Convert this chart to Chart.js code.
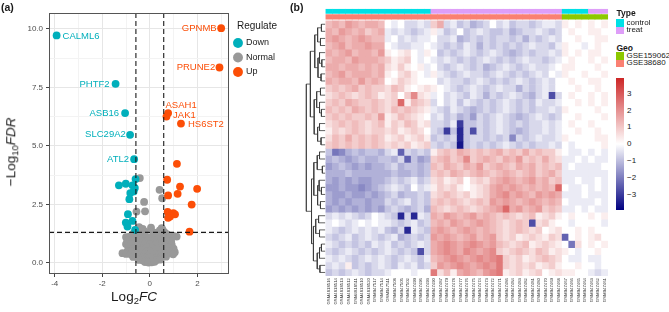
<!DOCTYPE html>
<html><head><meta charset="utf-8">
<script src="https://cdn.jsdelivr.net/npm/chart.js@4.4.1/dist/chart.umd.min.js"></script>
<style>
html,body{margin:0;padding:0;background:#fff;}
#wrap{position:relative;width:669px;height:312px;overflow:hidden;font-family:"Liberation Sans",Arial,sans-serif;color:#1a1a1a;}
canvas{position:absolute;top:0;}
.t{position:absolute;white-space:nowrap;line-height:1;}
.t sub{font-size:70%;vertical-align:-0.3em;line-height:0;}
.sw{position:absolute;}
</style></head><body>
<div id="wrap">
<canvas id="volcano" width="285" height="312" style="left:0px"></canvas>
<canvas id="heat" width="312" height="312" style="left:300px"></canvas>
<div class="t" style="left:1px;top:2px;font-size:10.5px;font-weight:bold">(a)</div>
<div class="t" style="left:290px;top:2px;font-size:10.5px;font-weight:bold">(b)</div>
<div class="t" style="left:11px;top:152px;font-size:13.5px;transform:translate(-50%,-50%) rotate(-90deg)">&minus;Log<sub>10</sub><i>FDR</i></div>
<div class="t" style="left:134px;top:297px;font-size:13.5px;transform:translate(-50%,-50%)">Log<sub>2</sub><i>FC</i></div>
<div id="hleg"></div>
</div>
<script>
// ================= Panel (a): volcano data =================
const downGene = ['CALML6','PHTF2','ASB16','SLC29A2','ATL2','','','','','','','','','','','','',''];
const downX = [-3.92,-1.44,-1.04,-0.83,-0.66,-0.60,-1.30,-1.01,-0.73,-0.63,-0.82,-0.68,-0.86,-0.92,-0.73,-1.01,-0.94,-0.62];
const downY = [9.72,7.65,6.40,5.47,4.43,3.58,3.31,3.38,3.31,3.20,2.98,3.05,2.72,2.08,1.79,1.72,1.55,1.41];
const upGene = ['GPNMB','PRUNE2','ASAH1','JAK1','HS6ST2','','','','','','','','','','','','',''];
const upX = [3.00,2.93,0.77,0.70,1.31,1.14,0.73,1.27,1.99,0.77,1.17,1.76,0.75,0.99,1.06,0.85,0.77,1.67];
const upY = [10.03,8.35,6.40,6.25,5.95,4.23,3.55,3.26,3.16,2.88,2.95,2.49,2.18,2.12,2.07,1.98,1.92,1.33];
const normalPts = [
 [-0.42,3.62],[0.41,3.12],[0.52,2.76],[-0.24,2.6],[-0.56,2.19],[-0.2,2.2],[-0.42,1.41],[0.54,1.41],
 [-0.45,1.52],[-0.3,1.45],[0.05,1.5],[0.5,1.48],[0.42,1.38],
 [-0.7,1.25],[-0.55,1.3],[-0.2,1.33],[0.15,1.3],[0.3,1.28],[0.62,1.3],[0.72,1.22],
 [-1.0,1.1],[-0.85,1.12],[-0.6,1.08],[-0.4,1.15],[-0.15,1.1],[0.1,1.12],[0.35,1.1],[0.6,1.1],[0.85,1.08],[0.99,1.15],[1.13,1.12],
 [-0.95,0.95],[-0.75,0.92],[-0.5,0.95],[-0.3,0.9],[-0.05,0.93],[0.2,0.95],[0.45,0.92],[0.7,0.95],[0.9,0.9],
 [-1.0,0.8],[-0.8,0.78],[-0.6,0.82],[-0.4,0.75],[-0.2,0.8],[0.0,0.78],[0.25,0.8],[0.5,0.76],[0.75,0.8],[0.92,0.77],
 [-0.9,0.65],[-0.7,0.6],[-0.5,0.65],[-0.3,0.62],[-0.1,0.66],[0.12,0.6],[0.35,0.64],[0.6,0.62],[0.8,0.65],[1.0,0.6],
 [-0.95,0.48],[-0.75,0.5],[-0.55,0.47],[-0.35,0.52],[-0.15,0.48],[0.05,0.5],[0.25,0.47],[0.45,0.52],[0.65,0.48],[0.85,0.5],[1.05,0.45],
 [-1.15,0.41],[-1.0,0.38],[-0.8,0.36],[-0.6,0.38],[-0.4,0.35],[-0.2,0.37],[0.0,0.36],[0.2,0.38],[0.4,0.35],[0.6,0.37],[0.8,0.4],[0.98,0.36],
 [-0.7,0.25],[-0.5,0.22],[-0.3,0.24],[-0.12,0.2],[0.08,0.23],[0.28,0.21],[0.48,0.24],[0.68,0.26],
 [-0.45,0.12],[-0.28,0.1],[-0.1,0.08],[0.1,0.1],[0.3,0.12],[0.45,0.14],
 [-0.2,0.03],[-0.05,0.01],[0.08,0.02],[0.2,0.04]
];
const fcCut = [-0.585, 0.585];
const fdrCut = 1.301;
const xTickVals = [-4,-3,-2,-1,0,1,2,3];
const yTickVals = [0,1.25,2.5,3.75,5,6.25,7.5,8.75,10];

// ================= Panel (b): heatmap data =================
const sampleNames = [
 'GSM4818516','GSM4818514','GSM4818513','GSM4818512','GSM4818511','GSM4818510','GSM4818520',
 'GSM947517','GSM947514','GSM947511','GSM947508','GSM947505','GSM947502','GSM947499','GSM947496','GSM947493',
 'GSM947490','GSM947487','GSM947479','GSM947478','GSM947477','GSM947476','GSM947475','GSM947474','GSM947473','GSM947472',
 'GSM947471','GSM947486','GSM947484','GSM947483','GSM947482','GSM947481','GSM947480','GSM947470','GSM947469','GSM947468',
 'GSM947467','GSM947466','GSM947465','GSM947464',
 'GSM947463','GSM947462','GSM947461'];
const sampleTypeCode = 'cccccccccccccccc tttttttttttttttttttt cccc ttt';
const sampleGeoCode  = 'aaaaaaaaaaaaaaaa aaaaaaaaaaaaaaaaaaaa bbbb bbb';
const typeLevels = ['control','treat'];
const geoLevels = ['GSE159062','GSE38680'];
// z-scores: letter code, M = 0, each step = 0.3
const exprRows = [
 'QRQSRQRRQMLMKKLK PRKLJKIJKMKLJKKJKLLK NMNM NMN',
 'RQSRQRPQRLKLKJKL NLJKMJKLKJJKIJKKLKJK MNMM NNM',
 'RSRQRSRQQLMKLKLL MKKLIJKJKJKKJKIKJKLK MMNM MNN',
 'QRSQRRSRRMLKKLLM LKJKJLKIKJKJKJKLKKJL NMML MNM',
 'RQRSQRRQSNMNOMLN MJKJKLKJKLKJIJKJKKLK NMNM NNM',
 'QRRQSRRRQPNOPMLM LKLKJKJKLKJKJKLKKJKL MNMM NMN',
 'RRQRRQRQRONPNMNL MKJKLKJKIJKLKJKLKKLM NNMM MNM',
 'QRSQRRRQRNMOPNML NLKJKLKKJKLKJKJKLKML NMMN MMN',
 'RQRRQSQRQMNPONMM MKLKKJKLKJKJKLKJKLKM MNMM NNM',
 'PQPQRPQPPOQPNMNO NMLKJKLKJKLKKIKJKLKM MMNM MNM',
 'OPQPOPQPNOPMPTON LMKLKJLKIKJKLKJIKLDK MNMM NMN',
 'PQPRQPPQPOPVNQPO KMKLJLKJKJKLKJKJLKKL MMNM NMN',
 'QPQPRQPQPOQPQPON LKJLKJIJKJKLKJKJKKLK NMMM MNM',
 'PQPQPPQPSNOQPONM KLJKIJHKJKLKJIJKLKJK MMNM MMN',
 'OPQPQPOPQNPOQPNO KKJLCJJKJKLKJKJKKLKL MNMM NMM',
 'NPOPQPOPPOPNOPOM KJCJBJDKJKLKJIJKKLKL MMNM MNM',
 'OQPRPQPQPNOPNOPN JKJKBJKKJKJKGKJKLKKL NMMM MNN',
 'PQPQPQPQPOPOPNOP KJKJAJKJKJKLKJKJKKLK MLMM MMN',
 'JFGIJIJJIKLEKJKJ NPQPRQPQPQRPQPRPQPPN MLLM LML',
 'IJIHIJIIJJIKEJHI PQRPQTPQRQPRQSPQPRPO LLML MLL',
 'HIJIHIHIIJKIJJIJ QPRQPRQSPQRQPRQRPQPQ LMLL LLM',
 'IIIJIIIIIIJIIJIJ PQPRQPQRQPQRQPQRPQRP LLLL LLL',
 'IHIHIHHIIJKJKLJK OPNOPMOPOQRSRQRSQRPQ LLML LML',
 'HHIHHGHIJKLKJMKL NPOPNMNOPRSRSRQRQRQV MLLM LML',
 'IHHIHHIHIJKIJJKJ OPQPOPNOPRSTRSRQSRSR LLLM LLL',
 'IHIHIIHIIKJKLJKJ PQPQPOPQPSRSRQRSRQRQ MLLL LML',
 'HIHIHIHIHJKJIJKI QPOPQPOPQRSVRSQRSPQP LLML MLL',
 'KLKLKJKMLKJBKBLK RQSRQRSQRQPQPOPQNOPN MNMM NMN',
 'LMLKLMLMLLKJKLJK QRQSRQRSRQPOPQPDOPNM MLMM MML',
 'LKJKLKLKLJIKBLKJ RSRQRSRQRQPOPQPOPMNO MMNM NMM',
 'KJKLJKLKJKLIJKJK SRSRQRSQRSPOPNOPONPO EMNM NOM',
 'LKJKJKJLKLJKJKLK RSTSRSTSRSQPOPQNOPON MFOM NMN',
 'KJKLKJKJKLKJKJDK RSTSRTSRSTPOPQPOQPNO NMLM MNM',
 'LKLKJKLKLKJKLKJL QRSTSRSTSTUPOPNOPQPO MLLM LLM',
 'KLKNJKJKLKJLKLJK PSRSTSRSTSUPOPOPNOPN MMNM MLM',
 'JKJKLKJKKLMMMLMM UOQNRSRQSTUNOPNOPMNO NNMM LKL'
];
// row dendrogram: [left, right, height]; leaves are row indices
const rowTree = [
 [
  [[[0,1,0.2],[2,3,0.25],0.4],[[4,[5,6,0.18],0.3],[7,8,0.22],0.38],0.55],
  [[[9,10,0.25],[11,[12,13,0.2],0.3],0.45],[[14,15,0.3],[16,17,0.22],0.4],0.58],
  0.78],
 [
  [[[18,19,0.3],[20,21,0.15],0.42],[[22,[23,24,0.2],0.32],[25,26,0.25],0.4],0.6],
  [[[27,28,0.35],[29,30,0.3],0.5],[[[31,32,0.2],33,0.3],[34,35,0.28],0.42],0.62],
  0.72],
 1];
const legendTicks = [3,2,1,0,-1,-2,-3];
const legendMax = 3.9;

// ================= styling =================
Chart.defaults.font.family = '"Liberation Sans", Arial, sans-serif';
Chart.defaults.color = '#1a1a1a';
const C_DOWN = '#00AFBB', C_NORM = '#999999', C_UP = '#FC4E07';
const typeColors = {control:'#00E0E6', treat:'#DE9EF8'};
const geoColors = {GSE159062:'#8CC800', GSE38680:'#FA8072'};
const labelPlacement = {
 CALML6:['left',6,0.5], PHTF2:['right',-6,1], ASB16:['right',-6,0], SLC29A2:['right',-4.3,0], ATL2:['right',-5,0.5],
 GPNMB:['right',-4.5,0], PRUNE2:['right',-4.3,0.3], ASAH1:['left',-2.6,-7.5], JAK1:['left',6.6,-1], HS6ST2:['left',7,0.3]
};

// ================= Panel (a) chart =================
const X_MIN = -4.24, X_MAX = 3.33, Y_MIN = -0.48, Y_MAX = 10.68;
const panelBorder = {
 id:'panelBorder',
 afterDatasetsDraw(chart){
  const a = chart.chartArea, ctx = chart.ctx;
  ctx.save(); ctx.strokeStyle = '#555'; ctx.lineWidth = 1;
  ctx.strokeRect(Math.round(a.left)+0.5, Math.round(a.top)+0.5, Math.round(a.right-a.left)-1, Math.round(a.bottom-a.top)-1);
  ctx.restore();
 }
};
const geneLabels = {
 id:'geneLabels',
 afterDatasetsDraw(chart){
  const ctx = chart.ctx;
  ctx.save();
  ctx.font = '9.5px "Liberation Sans", Arial, sans-serif';
  ctx.textBaseline = 'middle';
  [[0, downGene, C_DOWN],[2, upGene, C_UP]].forEach(([di, names, col])=>{
   const meta = chart.getDatasetMeta(di);
   names.forEach((g,j)=>{
    if(!g) return;
    const p = meta.data[j], pl = labelPlacement[g];
    ctx.fillStyle = col; ctx.textAlign = pl[0];
    ctx.fillText(g, p.x + pl[1], p.y + pl[2]);
   });
  });
  ctx.restore();
 }
};
const cutLine = {showLine:true, pointRadius:0, borderColor:'#1a1a1a', borderWidth:1.1, borderDash:[5,3], order:0, backgroundColor:'#1a1a1a'};
new Chart(document.getElementById('volcano'), {
 type:'scatter',
 data:{datasets:[
  {label:'Down', data: downX.map((x,i)=>({x, y:downY[i]})), backgroundColor:C_DOWN, order:1},
  {label:'Normal', data: normalPts.map(([x,y])=>({x,y})), backgroundColor:C_NORM, order:2},
  {label:'Up', data: upX.map((x,i)=>({x, y:upY[i]})), backgroundColor:C_UP, order:1},
  Object.assign({label:'cutL', data:[{x:fcCut[0],y:Y_MIN},{x:fcCut[0],y:Y_MAX}]}, cutLine),
  Object.assign({label:'cutR', data:[{x:fcCut[1],y:Y_MIN},{x:fcCut[1],y:Y_MAX}]}, cutLine),
  Object.assign({label:'cutH', data:[{x:X_MIN,y:fdrCut},{x:X_MAX,y:fdrCut}]}, cutLine)
 ]},
 options:{
  responsive:false, animation:false, events:[], devicePixelRatio:1,
  layout:{padding:{top:13,left:0,right:0,bottom:0}},
  elements:{point:{radius:3.9, hoverRadius:3.9, borderWidth:0}},
  plugins:{
   tooltip:{enabled:false},
   legend:{position:'right', align:'start',
    title:{display:true, text:'Regulate', color:'#1a1a1a', font:{size:10}, padding:{top:8,bottom:0}},
    labels:{usePointStyle:true, pointStyle:'circle', boxWidth:7, boxHeight:7, padding:5.5, color:'#1a1a1a', font:{size:9},
     filter:(it)=>['Down','Normal','Up'].includes(it.text), sort:(a,b)=>a.datasetIndex-b.datasetIndex}}
  },
  scales:{
   x:{type:'linear', min:X_MIN, max:X_MAX,
    afterBuildTicks(s){ s.ticks = xTickVals.map(v=>({value:v})); },
    afterFit(s){ s.height = 38; },
    ticks:{autoSkip:false, maxRotation:0, color:'#4d4d4d', font:{size:8}, padding:2,
     callback:(v)=> (v % 2 === 0 ? String(v) : '')},
    grid:{color:(c)=> (c.tick && c.tick.value % 2 === 0 ? '#e6e6e6' : '#f3f3f3'), lineWidth:1,
     tickColor:(c)=> (c.tick && c.tick.value % 2 === 0 ? '#444' : 'rgba(0,0,0,0)'), tickLength:3},
    border:{display:false}},
   y:{type:'linear', min:Y_MIN, max:Y_MAX,
    afterBuildTicks(s){ s.ticks = yTickVals.map(v=>({value:v})); },
    afterFit(s){ s.width = 49; },
    ticks:{autoSkip:false, color:'#4d4d4d', font:{size:8}, padding:3,
     callback:(v)=> (Math.abs(v/2.5 - Math.round(v/2.5)) < 1e-6 ? v.toFixed(1) : '')},
    grid:{color:(c)=> (c.tick && Math.abs(c.tick.value/2.5 - Math.round(c.tick.value/2.5))<1e-6 ? '#e6e6e6' : '#f3f3f3'), lineWidth:1,
     tickColor:(c)=> (c.tick && Math.abs(c.tick.value/2.5 - Math.round(c.tick.value/2.5))<1e-6 ? '#444' : 'rgba(0,0,0,0)'), tickLength:3},
    border:{display:false}}
  }
 },
 plugins:[panelBorder, geneLabels]
});

// ================= Panel (b) chart =================
function decode(ch){ return (ch.charCodeAt(0) - 77) * 0.3; }
function heatColor(v){
 const t = Math.max(-1, Math.min(1, v / legendMax));
 let r,g,b;
 if(t < 0){ const a = -t; r = 255*(1-a); g = 255*(1-a); b = 255 - 127*a; }
 else { r = 255 - 50*t; g = 255 - 217*t; b = 255 - 217*t; }
 return 'rgb(' + Math.round(r) + ',' + Math.round(g) + ',' + Math.round(b) + ')';
}
const sampleType = [...sampleTypeCode.replace(/ /g,'')].map(c => c === 'c' ? 'control' : 'treat');
const sampleGeo = [...sampleGeoCode.replace(/ /g,'')].map(c => c === 'a' ? 'GSE38680' : 'GSE159062');
const barBase = {type:'bar', grouped:false, barPercentage:1, categoryPercentage:1, borderWidth:0};
const heatSets = [];
exprRows.forEach((row, j) => {
 const vals = [...row.replace(/ /g,'')].map(decode);
 heatSets.push(Object.assign({label:'row'+j, data: vals.map((v,i)=>({x:i+0.5, y:[j, j+1]})), backgroundColor: vals.map(heatColor)}, barBase));
});
heatSets.push(Object.assign({label:'Type', data: sampleType.map((t,i)=>({x:i+0.5, y:[-1.65,-1.04]})), backgroundColor: sampleType.map(t=>typeColors[t])}, barBase));
heatSets.push(Object.assign({label:'Geo', data: sampleGeo.map((t,i)=>({x:i+0.5, y:[-0.85,-0.2]})), backgroundColor: sampleGeo.map(t=>geoColors[t])}, barBase));
// dendrogram
const dendroPts = [];
const leafX = -0.1, rootX = -3.0;
function hx(h){ return leafX - (leafX - rootX) * h; }
function walk(n){
 if(typeof n === 'number') return {y:n+0.5, h:0};
 const a = walk(n[0]), b = walk(n[1]), h = n[2];
 dendroPts.push({x:hx(a.h),y:a.y},{x:hx(h),y:a.y},{x:hx(h),y:b.y},{x:hx(b.h),y:b.y},{x:null,y:null});
 return {y:(a.y+b.y)/2, h};
}
walk(rowTree);
heatSets.push({type:'line', label:'dendro', data:dendroPts, borderColor:'#3a3a3a', borderWidth:0.8, pointRadius:0, spanGaps:false, tension:0, fill:false});

new Chart(document.getElementById('heat'), {
 type:'bar',
 data:{datasets:heatSets},
 options:{
  responsive:false, animation:false, events:[], devicePixelRatio:1,
  layout:{padding:{left:5.54, right:2.2, top:8.65, bottom:0}},
  plugins:{legend:{display:false}, tooltip:{enabled:false}},
  scales:{
   x:{type:'linear', min:-3.1, max:43, offset:false,
    grid:{display:false, drawTicks:false, offset:false}, border:{display:false},
    afterBuildTicks(s){ s.ticks = sampleNames.map((_,i)=>({value:i+0.5})); },
    afterFit(s){ s.height = 36; },
    ticks:{autoSkip:false, maxRotation:90, minRotation:90, padding:2, color:'#333', font:{size:4.3},
     callback:(v,i)=> sampleNames[i]}},
   y:{type:'linear', display:false, reverse:true, min:-1.7, max:36}
  }
 }
});

// ================= heatmap legends (HTML) =================
const hleg = document.getElementById('hleg');
function addText(txt, x, y, size, bold){
 const d = document.createElement('div'); d.className='t'; d.textContent = txt;
 d.style.left = x+'px'; d.style.top = y+'px'; d.style.fontSize = size+'px';
 d.style.transform = 'translateY(-50%)'; if(bold) d.style.fontWeight='bold';
 hleg.appendChild(d);
}
function addBox(x, y, w, h, bg){
 const d = document.createElement('div'); d.className='sw';
 Object.assign(d.style, {left:x+'px', top:y+'px', width:w+'px', height:h+'px', background:bg});
 hleg.appendChild(d);
}
addText('Type', 616.5, 12.5, 8.5, true);
typeLevels.forEach((lv,k)=>{ addBox(616, 19 + k*7.5, 7.5, 7.5, typeColors[lv]); addText(lv, 626.5, 22.9 + k*7.5, 8, false); });
addText('Geo', 616.5, 48, 8.5, true);
geoLevels.forEach((lv,k)=>{ addBox(616, 52 + k*7.5, 7.5, 7.5, geoColors[lv]); addText(lv, 626.5, 55.9 + k*7.5, 8, false); });
addBox(616, 78, 7.5, 132, 'linear-gradient(to bottom, ' + heatColor(legendMax) + ', #ffffff 50%, ' + heatColor(-legendMax) + ')');
legendTicks.forEach(v => addText(v < 0 ? '\u2212' + Math.abs(v) : String(v), 627, 144.3 - 16.9*v, 8, false));
</script>
</body></html>
